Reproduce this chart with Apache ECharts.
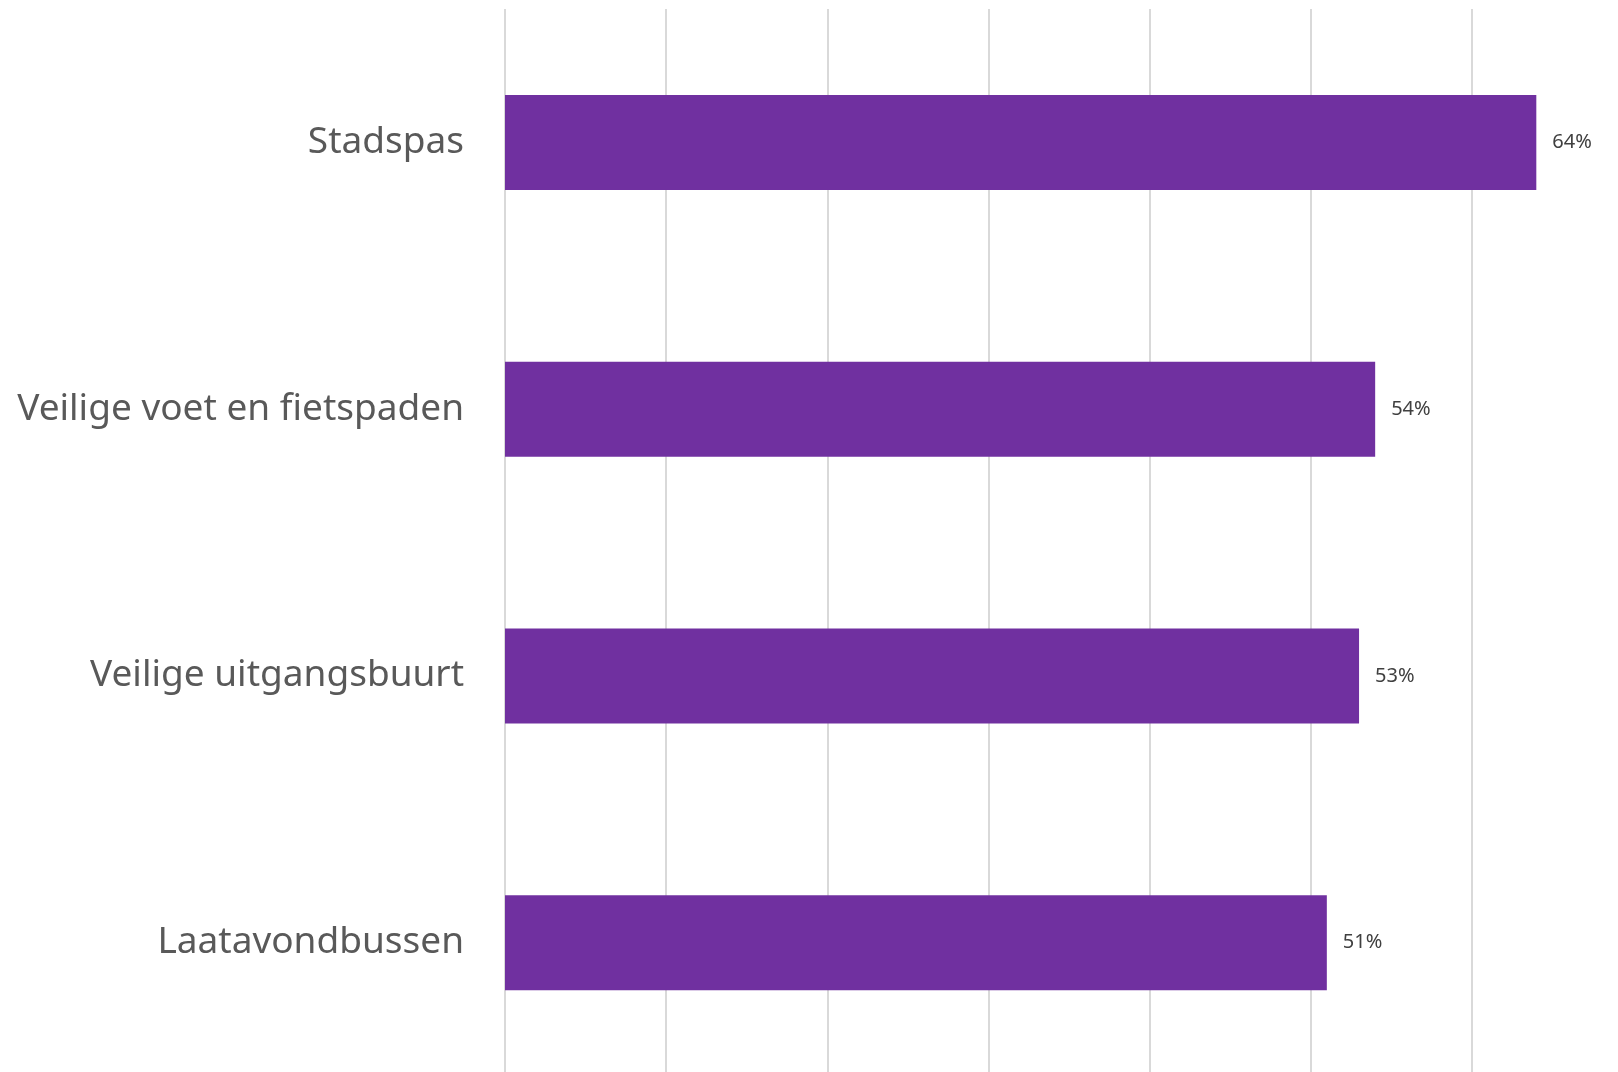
<!DOCTYPE html>
<html>
<head>
<meta charset="utf-8">
<script src="https://cdn.jsdelivr.net/npm/echarts@6/dist/echarts.min.js"></script>
<style>
  html, body { margin: 0; padding: 0; background: #fff; }
  #chart { width: 1618px; height: 1072px; }
</style>
</head>
<body>
<div id="chart"></div>
<script>
var categories = ['Stadspas', 'Veilige voet en fietspaden', 'Veilige uitgangsbuurt', 'Laatavondbussen'];
var values = [64, 54, 53, 51];

var myChart = echarts.init(document.getElementById('chart'));

// plot area runs past the right edge, so the 70% gridline is off-canvas like the original
var option = {
    backgroundColor: '#ffffff',
    animation: false,
    grid: { left: 505, width: 1128, top: 9, height: 1067, containLabel: false, outerBoundsMode: 'none' },
    xAxis: {
        type: 'value',
        min: 0,
        max: 70,
        interval: 10,
        axisLabel: { show: false },
        axisTick: { show: false },
        axisLine: { show: false },
        splitLine: { lineStyle: { color: '#d9d9d9', width: 2 } }
    },
    yAxis: {
        type: 'category',
        data: categories,
        inverse: true,
        axisTick: { show: false },
        axisLine: { show: false },
        axisLabel: {
            margin: 41,
            color: '#595959',
            fontSize: 37,
            fontFamily: 'Noto Sans'
        }
    },
    series: [{
        type: 'bar',
        data: values,
        barWidth: 95,
        itemStyle: { color: '#7030a0' },
        label: {
            show: true,
            position: 'right',
            distance: 16,
            formatter: '{c}%',
            color: '#404040',
            fontSize: 20,
            fontFamily: 'Noto Sans'
        }
    }]
};

myChart.setOption(option);
</script>
</body>
</html>
